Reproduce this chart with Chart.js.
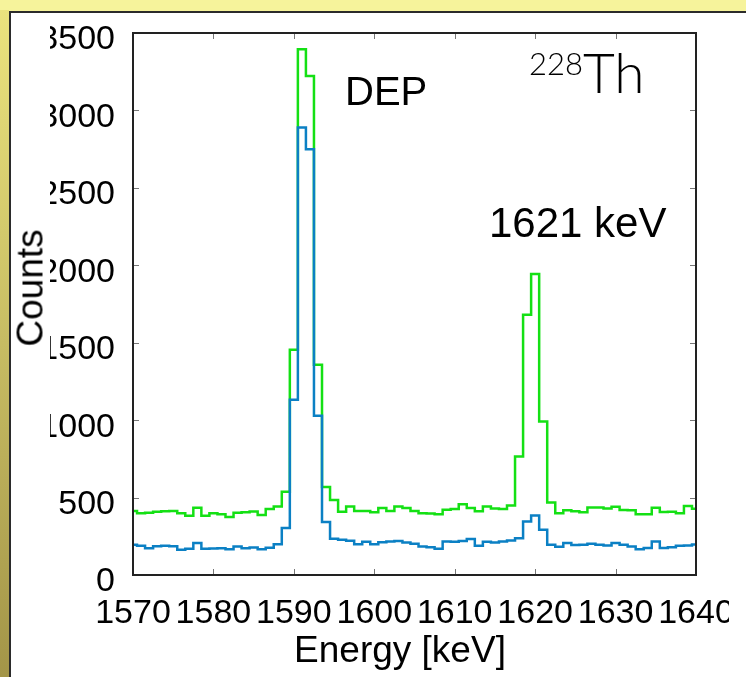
<!DOCTYPE html>
<html>
<head>
<meta charset="utf-8">
<script src="https://cdn.jsdelivr.net/npm/chart.js@4.4.1/dist/chart.umd.min.js"></script>
<style>
  html, body { margin: 0; padding: 0; }
  body {
    width: 746px; height: 677px; position: relative; overflow: hidden;
    background: #f6f39b;
    font-family: "Liberation Sans", Arial, sans-serif;
  }
  #strip { position: absolute; left: 0; top: 10px; width: 9px; height: 667px;
    background: linear-gradient(#ebe37e, #a39548); }
  #panel { position: absolute; left: 9px; top: 11px; right: 0; bottom: 0; background: #fff;
    border-top: 2px solid #2b2b2b; border-left: 2px solid #2b2b2b; }
  #clip { position: absolute; left: 50px; top: 13px; width: 679px; height: 664px; overflow: hidden; }
  #clip canvas { position: absolute; left: -50px; top: -13px; }
  .lbl { position: absolute; color: #000; white-space: nowrap; line-height: 1; }
</style>
</head>
<body>
<div id="strip"></div>
<div id="panel"></div>
<div id="clip"><canvas id="spectrum" width="746" height="677"></canvas></div>

<div class="lbl" style="left:30px; top:288px; font-size:37px; transform:translate(-50%,-50%) rotate(-90deg);">Counts</div>
<div class="lbl" style="left:400px; top:631px; font-size:37px; transform:translateX(-50%);">Energy [keV]</div>
<div class="lbl" style="left:345px; top:71px; font-size:40px;">DEP</div>
<div class="lbl" style="left:489px; top:202px; font-size:42px;">1621 keV</div>
<div class="lbl" style="left:529px; top:45px; font-size:55px; font-family:Lato, 'Open Sans', sans-serif; font-weight:300;"><span style="font-size:31px; position:relative; top:-18px;">228</span>Th</div>

<script>
// bin centres (keV), 1 keV bins
const energy = [
  1570, 1571, 1572, 1573, 1574, 1575, 1576, 1577, 1578, 1579,
  1580, 1581, 1582, 1583, 1584, 1585, 1586, 1587, 1588, 1589,
  1590, 1591, 1592, 1593, 1594, 1595, 1596, 1597, 1598, 1599,
  1600, 1601, 1602, 1603, 1604, 1605, 1606, 1607, 1608, 1609,
  1610, 1611, 1612, 1613, 1614, 1615, 1616, 1617, 1618, 1619,
  1620, 1621, 1622, 1623, 1624, 1625, 1626, 1627, 1628, 1629,
  1630, 1631, 1632, 1633, 1634, 1635, 1636, 1637, 1638, 1639,
  1640
];

const countsGreen = [
  414, 399, 402, 408, 412, 414, 399, 382, 434, 382,
  399, 393, 374, 402, 406, 410, 387, 427, 442, 537,
  1454, 3395, 3223, 1357, 569, 485, 408, 442, 414, 414,
  406, 432, 414, 442, 432, 414, 399, 397, 393, 421,
  427, 457, 432, 412, 442, 430, 427, 449, 765, 1680,
  1944, 991, 468, 398, 418, 412, 405, 436, 436, 430,
  440, 420, 418, 392, 393, 434, 407, 408, 398, 445,
  428
];

const countsBlue = [
  195, 189, 173, 186, 189, 186, 163, 169, 206, 169,
  171, 173, 167, 184, 173, 178, 167, 176, 199, 303,
  1131, 2889, 2750, 1028, 343, 234, 227, 221, 199, 214,
  199, 212, 216, 219, 210, 201, 184, 180, 169, 216,
  214, 219, 232, 189, 214, 210, 216, 223, 238, 345,
  384, 292, 195, 182, 206, 193, 195, 201, 195, 191,
  206, 195, 184, 167, 174, 216, 174, 180, 189, 191,
  197
];

const xRange = [1570, 1640];
const yRange = [0, 3500];

function toPoints(counts) {
  return energy.map((e, i) => ({ x: e, y: counts[i] }));
}

// box round the plot, with short ticks pointing inwards on all four sides
const frame = {
  id: 'frame',
  afterDatasetsDraw(chart) {
    const { ctx, chartArea: a, scales: { x, y } } = chart;
    ctx.save();
    ctx.strokeStyle = '#777';
    ctx.lineWidth = 1;
    ctx.beginPath();
    x.ticks.forEach(t => {
      const px = Math.round(x.getPixelForValue(t.value)) + 0.5;
      ctx.moveTo(px, a.bottom); ctx.lineTo(px, a.bottom - 6);
      ctx.moveTo(px, a.top); ctx.lineTo(px, a.top + 6);
    });
    y.ticks.forEach(t => {
      const py = Math.round(y.getPixelForValue(t.value)) + 0.5;
      ctx.moveTo(a.left, py); ctx.lineTo(a.left + 6, py);
      ctx.moveTo(a.right, py); ctx.lineTo(a.right - 6, py);
    });
    ctx.stroke();
    ctx.strokeStyle = '#222';
    ctx.lineWidth = 2;
    ctx.strokeRect(a.left, a.top, a.right - a.left, a.bottom - a.top);
    ctx.restore();
  }
};

const tickFont = { family: '"Liberation Sans", Arial, sans-serif', size: 34 };

new Chart(document.getElementById('spectrum'), {
  type: 'line',
  data: {
    datasets: [
      { data: toPoints(countsBlue), borderColor: '#0b80c4' },
      { data: toPoints(countsGreen), borderColor: '#14e014' }
    ]
  },
  options: {
    responsive: false,
    animation: false,
    events: [],
    layout: { padding: { left: 0, top: 33, right: 50, bottom: 0 } },
    elements: {
      line: { stepped: 'middle', borderWidth: 2.5, tension: 0 },
      point: { radius: 0 }
    },
    plugins: { legend: { display: false }, tooltip: { enabled: false } },
    scales: {
      x: {
        type: 'linear', min: xRange[0], max: xRange[1],
        grid: { display: false },
        border: { display: false },
        ticks: { stepSize: 10, color: '#000', font: tickFont, padding: 10, maxRotation: 0,
                 callback: v => String(v) },
        afterFit: s => { s.height = 102; }
      },
      y: {
        type: 'linear', min: yRange[0], max: yRange[1],
        grid: { display: false },
        border: { display: false },
        ticks: { stepSize: 500, color: '#000', font: tickFont, padding: 10, labelOffset: 7,
                 callback: v => String(v) },
        afterFit: s => { s.width = 133; }
      }
    }
  },
  plugins: [frame]
});
</script>
</body>
</html>
